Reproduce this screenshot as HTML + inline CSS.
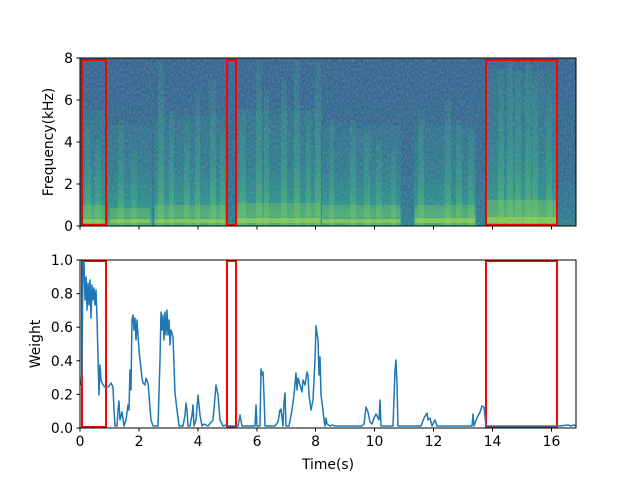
<!DOCTYPE html>
<html><head><meta charset="utf-8"><style>
html,body{margin:0;padding:0;background:#fff}
svg text{font-family:"DejaVu Sans","Liberation Sans",sans-serif;font-size:13.9px;fill:#000}
</style></head><body>
<svg width="640" height="480" viewBox="0 0 640 480" xmlns="http://www.w3.org/2000/svg">
<defs>
<linearGradient id="bg" x1="0" y1="0" x2="0" y2="1">
<stop offset="0" stop-color="#32668d"/><stop offset="0.6" stop-color="#306b8e"/><stop offset="0.9" stop-color="#2c788e"/><stop offset="1" stop-color="#2a848c"/>
</linearGradient>
<linearGradient id="sp" x1="0" y1="0" x2="0" y2="1">
<stop offset="0" stop-color="#2a8a8a" stop-opacity="0.3"/><stop offset="0.45" stop-color="#2a8f89" stop-opacity="0.45"/><stop offset="0.8" stop-color="#27a184" stop-opacity="0.7"/><stop offset="1" stop-color="#4ac16d" stop-opacity="0.85"/>
</linearGradient>
<linearGradient id="st" x1="0" y1="0" x2="0" y2="1">
<stop offset="0" stop-color="#35b779" stop-opacity="0.15"/><stop offset="0.6" stop-color="#35b779" stop-opacity="0.38"/><stop offset="1" stop-color="#6ccd5a" stop-opacity="0.6"/>
</linearGradient>
<filter id="n" x="0" y="0" width="1" height="1"><feTurbulence type="fractalNoise" baseFrequency="0.7 0.35" numOctaves="2" seed="5"/><feColorMatrix values="0 0 0 0 0.25  0 0 0 0 0.3  0 0 0 0 0.55  1.6 0 0 0 -0.55"/></filter>
<clipPath id="c1"><rect x="80" y="58" width="496" height="168"/></clipPath>
</defs>
<g clip-path="url(#c1)">
<rect x="80" y="58" width="496" height="168" fill="url(#bg)"/>
<g fill="url(#sp)">
<rect x="82" y="110" width="24" height="116"/>
<rect x="108" y="125" width="44" height="101"/>
<rect x="154" y="115" width="72" height="111"/>
<rect x="237" y="110" width="84" height="116"/>
<rect x="322" y="125" width="79" height="101"/>
<rect x="414" y="125" width="62" height="101"/>
<rect x="486" y="70" width="71" height="156"/>
</g>
<g fill="url(#st)">
<rect x="85" y="130" width="6" height="96"/><rect x="95" y="140" width="6" height="86"/>
<rect x="118" y="120" width="6" height="106"/><rect x="131" y="150" width="6" height="76"/>
<rect x="158" y="60" width="6" height="166"/><rect x="169" y="110" width="5" height="116"/>
<rect x="184" y="120" width="6" height="106"/><rect x="195" y="90" width="5" height="136"/>
<rect x="210" y="80" width="6" height="146"/><rect x="220" y="130" width="5" height="96"/>
<rect x="239" y="110" width="7" height="116"/><rect x="256" y="60" width="6" height="166"/>
<rect x="264" y="90" width="5" height="136"/><rect x="281" y="80" width="6" height="146"/>
<rect x="294" y="60" width="6" height="166"/><rect x="306" y="110" width="5" height="116"/>
<rect x="315" y="60" width="6" height="166"/><rect x="329" y="120" width="5" height="106"/>
<rect x="350" y="120" width="6" height="106"/><rect x="364" y="130" width="6" height="96"/>
<rect x="376" y="140" width="6" height="86"/><rect x="391" y="150" width="5" height="76"/>
<rect x="418" y="110" width="6" height="116"/><rect x="445" y="100" width="6" height="126"/>
<rect x="456" y="120" width="6" height="106"/><rect x="468" y="130" width="6" height="96"/>
<rect x="498" y="70" width="6" height="156"/><rect x="507" y="60" width="6" height="166"/>
<rect x="515" y="70" width="6" height="156"/><rect x="525" y="60" width="6" height="166"/>
<rect x="532" y="80" width="6" height="146"/><rect x="546" y="100" width="6" height="126"/>
</g>
<g fill="#9bd93c" opacity="0.75">
<rect x="82" y="219" width="24" height="4"/><rect x="110" y="219" width="40" height="4"/>
<rect x="155" y="219" width="70" height="4"/><rect x="237" y="218" width="83" height="5"/>
<rect x="322" y="219" width="78" height="4"/><rect x="415" y="218" width="60" height="5"/>
<rect x="486" y="217" width="71" height="6"/>
</g>
<g fill="#7ad151" opacity="0.35">
<rect x="82" y="205" width="24" height="12"/><rect x="110" y="208" width="40" height="9"/>
<rect x="155" y="205" width="70" height="12"/><rect x="237" y="203" width="83" height="14"/>
<rect x="322" y="205" width="78" height="12"/><rect x="415" y="205" width="60" height="12"/>
<rect x="486" y="200" width="71" height="17"/>
</g>
<rect x="80" y="58" width="496" height="168" filter="url(#n)" opacity="0.6"/>
</g>
<g fill="none" stroke="#ff0000" stroke-width="2">
<rect x="82" y="60" width="24" height="165"/><rect x="227" y="60" width="9" height="165"/><rect x="486" y="60" width="71" height="165"/>
<rect x="82" y="261" width="24" height="166"/><rect x="227" y="261" width="9" height="166"/><rect x="486" y="261" width="71" height="166"/>
</g>
<polyline fill="none" stroke="#1f77b4" stroke-width="1.5" stroke-linejoin="round" points="81,385 82,372 83,260 84,262 85,300 86,277 87,310 88,283 89,305 90,280 91,318 92,285 93,300 94,288 95,305 96,290 97,318 98,357 99,395 100,365 101,380 103,385 106,388 109,386 111,383 113,387 114,410 115,426 117,426 118,410 119,401 120,420 122,412 124,426 126,420 128,405 129,410 130,370 131,390 132,320 133,315 134,330 135,318 136,340 137,320 139,350 140,360 142,378 143,383 145,385 146,378 148,383 149,395 150,408 151,420 153,426 158,426 160,360 161,312 162,330 163,315 164,340 165,312 166,335 167,310 168,335 169,320 170,345 171,330 173,337 175,393 177,410 179,426 183,426 185,415 186,403 187,410 188,426 190,426 192,415 193,405 194,426 196,420 198,395 200,415 202,426 204,424 208,426 213,420 216,385 218,395 220,420 223,426 226,425 229,426 238,426 240,415 242,426 255,426 256,405 257,426 260,426 261,369 262,375 263,372 264,395 265,426 275,426 278,422 280,410 281,409 283,426 284,402 285,393 286,426 289,426 292,410 294,395 296,373 297,390 298,378 300,385 302,392 303,380 305,385 307,372 308,375 309,395 311,410 313,400 315,360 316,326 318,340 319,375 320,357 321,395 323,410 324,420 325,426 326,418 327,424 330,426 332,425 335,426 362,426 364,424 366,407 368,412 370,422 372,424 374,418 376,414 378,418 379,420 380,400 381,426 393,426 395,370 396,360 397,385 398,426 421,426 424,418 427,413 428,420 430,418 432,426 435,420 437,426 472,426 473,414 474,426 477,418 480,412 482,406 484,407 486,426 546,426 560,426 568,425 571,426 574,425 576,426"/>
<g fill="none" stroke="#000" stroke-width="1">
<rect x="80" y="58" width="496" height="168"/>
<rect x="80" y="260" width="496" height="168"/>
</g>
<g stroke="#000" stroke-width="1">
<line x1="80" y1="226" x2="80" y2="229.5"/><line x1="139" y1="226" x2="139" y2="229.5"/><line x1="198" y1="226" x2="198" y2="229.5"/><line x1="257" y1="226" x2="257" y2="229.5"/><line x1="315.5" y1="226" x2="315.5" y2="229.5"/><line x1="374.5" y1="226" x2="374.5" y2="229.5"/><line x1="433.5" y1="226" x2="433.5" y2="229.5"/><line x1="492.5" y1="226" x2="492.5" y2="229.5"/><line x1="551.5" y1="226" x2="551.5" y2="229.5"/>
<line x1="80" y1="428" x2="80" y2="431.5"/><line x1="139" y1="428" x2="139" y2="431.5"/><line x1="198" y1="428" x2="198" y2="431.5"/><line x1="257" y1="428" x2="257" y2="431.5"/><line x1="315.5" y1="428" x2="315.5" y2="431.5"/><line x1="374.5" y1="428" x2="374.5" y2="431.5"/><line x1="433.5" y1="428" x2="433.5" y2="431.5"/><line x1="492.5" y1="428" x2="492.5" y2="431.5"/><line x1="551.5" y1="428" x2="551.5" y2="431.5"/>
<line x1="76.5" y1="226" x2="80" y2="226"/><line x1="76.5" y1="184" x2="80" y2="184"/><line x1="76.5" y1="142" x2="80" y2="142"/><line x1="76.5" y1="100" x2="80" y2="100"/><line x1="76.5" y1="58" x2="80" y2="58"/>
<line x1="76.5" y1="428" x2="80" y2="428"/><line x1="76.5" y1="394.4" x2="80" y2="394.4"/><line x1="76.5" y1="360.8" x2="80" y2="360.8"/><line x1="76.5" y1="327.2" x2="80" y2="327.2"/><line x1="76.5" y1="293.6" x2="80" y2="293.6"/><line x1="76.5" y1="260" x2="80" y2="260"/>
</g>
<g text-anchor="end">
<text x="73" y="231">0</text><text x="73" y="189">2</text><text x="73" y="147">4</text><text x="73" y="105">6</text><text x="73" y="63">8</text>
<text x="73" y="433">0.0</text><text x="73" y="399.4">0.2</text><text x="73" y="365.8">0.4</text><text x="73" y="332.2">0.6</text><text x="73" y="298.6">0.8</text><text x="73" y="265">1.0</text>
</g>
<g text-anchor="middle">
<text x="80" y="446">0</text><text x="139" y="446">2</text><text x="198" y="446">4</text><text x="257" y="446">6</text><text x="315.5" y="446">8</text><text x="374.5" y="446">10</text><text x="433.5" y="446">12</text><text x="492.5" y="446">14</text><text x="551.5" y="446">16</text>
<text x="328" y="469">Time(s)</text>
<text transform="translate(53,142) rotate(-90)">Frequency(kHz)</text>
<text transform="translate(40,344) rotate(-90)">Weight</text>
</g>
</svg>
</body></html>
